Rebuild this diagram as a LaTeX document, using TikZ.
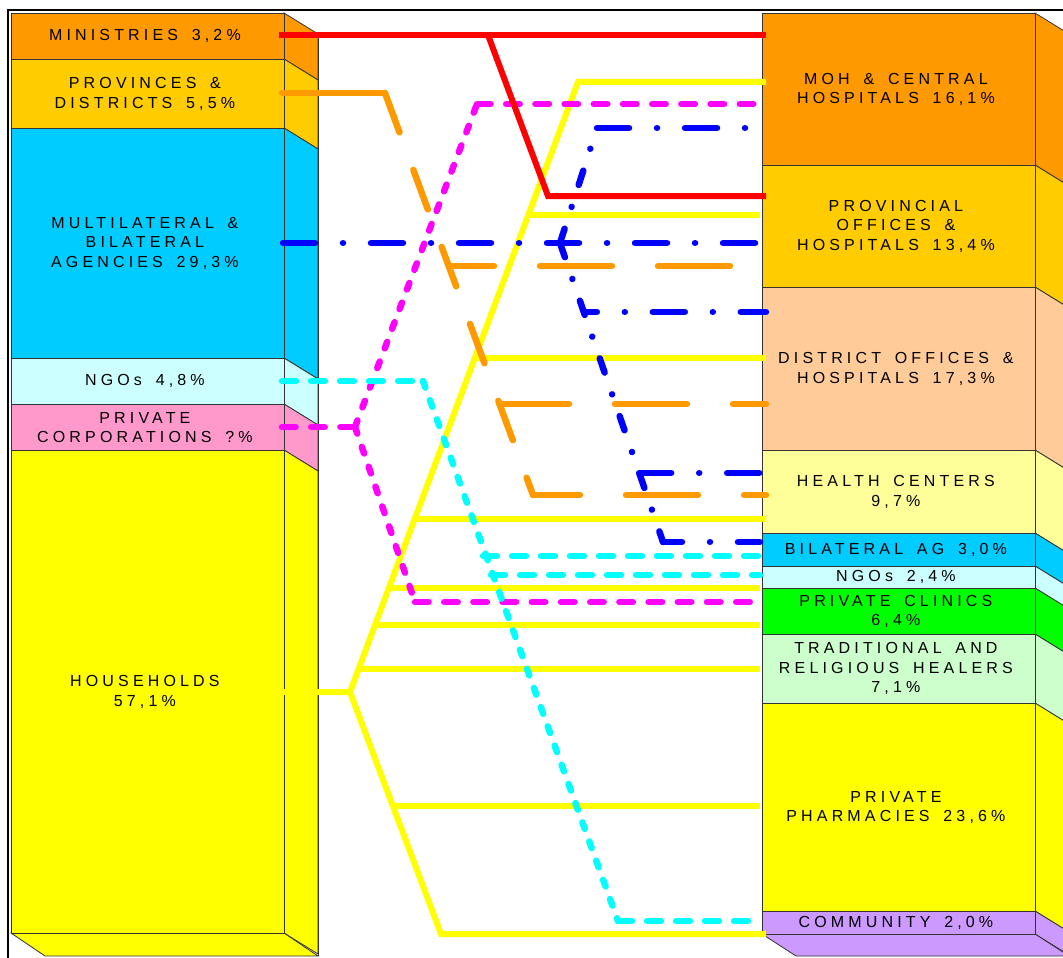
\documentclass[tikz,border=0pt]{standalone}
\usepackage{fontspec}
\newfontfamily\lblfont[LetterSpace=26,WordSpace=1.6]{Liberation Sans}
\definecolor{cMin}{HTML}{FF9900}
\definecolor{cProv}{HTML}{FFCC00}
\definecolor{cMulti}{HTML}{00CCFF}
\definecolor{cNgo}{HTML}{CCFFFF}
\definecolor{cPriv}{HTML}{FF99CC}
\definecolor{cHH}{HTML}{FFFF00}
\definecolor{cDist}{HTML}{FFCC99}
\definecolor{cHC}{HTML}{FFFF99}
\definecolor{cClin}{HTML}{00FF00}
\definecolor{cTrad}{HTML}{CCFFCC}
\definecolor{cComm}{HTML}{CC99FF}
\definecolor{lRed}{HTML}{FF0000}
\definecolor{lOra}{HTML}{FF9900}
\definecolor{lBlu}{HTML}{0000FF}
\definecolor{lCya}{HTML}{00FFFF}
\definecolor{lMag}{HTML}{FF00FF}
\definecolor{lYel}{HTML}{FFFF00}
\begin{document}
\begin{tikzpicture}[x=1pt,y=-1pt,
  edge/.style={draw=black!80, line width=0.8pt},
  face/.style={edge, rectangle, inner sep=0pt, anchor=north west, minimum width=273pt},
  lbl/.style={font=\lblfont\fontsize{16pt}{19.5pt}\selectfont, align=center, text=black, inner sep=0pt, xshift=-3pt},
  conn/.style={line width=6pt},
  dconn/.style={line width=6.5pt, line cap=round},
  yelline/.style={conn, draw=lYel},
  redline/.style={conn, draw=lRed},
  orabase/.style={dconn, draw=lOra},
  orah/.style={orabase, dash pattern=on 72pt off 46pt},
  orad/.style={orabase, dash pattern=on 42pt off 40pt},
  blubase/.style={dconn, draw=lBlu},
  bluh/.style={blubase, dash pattern=on 32pt off 28pt on 0.01pt off 28pt},
  blud/.style={blubase, dash pattern=on 15pt off 23pt on 0.01pt off 23pt},
  magh/.style={dconn, draw=lMag, dash pattern=on 13.5pt off 15.7pt},
  magd/.style={dconn, draw=lMag, dash pattern=on 7pt off 14pt},
  cyah/.style={dconn, draw=lCya, dash pattern=on 14pt off 15pt},
  cyad/.style={dconn, draw=lCya, dash pattern=on 7pt off 13.4pt}]
\useasboundingbox (0,0) rectangle (1063,958);
\clip (0,0) rectangle (1063,958);
% frame
\draw[line width=2pt] (7.5,960) -- (7.5,10) -- (1065,10);
% left column side and bottom faces
\foreach \a/\b/\c in {13/59/cMin,59/128/cProv,128/358/cMulti,358/404/cNgo,404/450/cPriv,450/933/cHH}
  {\filldraw[fill=\c, edge] (284,\a) -- (318,\a+21) -- (318,\b+21) -- (284,\b) -- cycle;}
\filldraw[fill=cHH, edge] (11,933) -- (284,933) -- (318,956) -- (45,956) -- cycle;
% right column side and bottom faces
\foreach \a/\b/\c in {13/165/cMin,165/287/cProv,287/450/cDist,450/533/cHC,533/566/cMulti,566/588/cNgo,588/634/cClin,634/703/cTrad,703/911/cHH,911/934/cComm}
  {\filldraw[fill=\c, edge] (1035,\a) -- (1069,\a+21) -- (1069,\b+21) -- (1035,\b) -- cycle;}
\filldraw[fill=cComm, edge] (762,934) -- (1035,934) -- (1069,956) -- (796,956) -- cycle;
% left front faces
\node[face, fill=cMin, minimum height=46pt] (ministries) at (11,13) {};
\node[face, fill=cProv, minimum height=69pt] (provinces) at (11,59) {};
\node[face, fill=cMulti, minimum height=230pt] (multi) at (11,128) {};
\node[face, fill=cNgo, minimum height=46pt] (ngosL) at (11,358) {};
\node[face, fill=cPriv, minimum height=46pt] (privcorp) at (11,404) {};
\node[face, fill=cHH, minimum height=483pt] (households) at (11,450) {};
% right front faces
\node[face, fill=cMin, minimum height=152pt] (moh) at (762,13) {};
\node[face, fill=cProv, minimum height=122pt] (provoff) at (762,165) {};
\node[face, fill=cDist, minimum height=163pt] (distoff) at (762,287) {};
\node[face, fill=cHC, minimum height=83pt] (hc) at (762,450) {};
\node[face, fill=cMulti, minimum height=33pt] (bilat) at (762,533) {};
\node[face, fill=cNgo, minimum height=22pt] (ngosR) at (762,566) {};
\node[face, fill=cClin, minimum height=46pt] (clinics) at (762,588) {};
\node[face, fill=cTrad, minimum height=69pt] (healers) at (762,634) {};
\node[face, fill=cHH, minimum height=208pt] (pharm) at (762,703) {};
\node[face, fill=cComm, minimum height=23pt] (comm) at (762,911) {};
% labels
\node[lbl] (tMin) at (ministries.center) {MINISTRIES 3,2\%};
\node[lbl] (tProv) at (provinces.center) {PROVINCES \&\\DISTRICTS 5,5\%};
\node[lbl] (tMulti) at (multi.center) {MULTILATERAL \&\\BILATERAL\\AGENCIES 29,3\%};
\node[lbl] (tNgoL) at (ngosL.center) {NGOs 4,8\%};
\node[lbl] (tPriv) at (privcorp.center) {PRIVATE\\CORPORATIONS ?\%};
\node[lbl] (tHH) at (households.center) {HOUSEHOLDS\\57,1\%};
\node[lbl] (tMoh) at (moh.center) {MOH \& CENTRAL\\HOSPITALS 16,1\%};
\node[lbl] (tProvOff) at (provoff.center) {PROVINCIAL\\OFFICES \&\\HOSPITALS 13,4\%};
\node[lbl] (tDist) at (distoff.center) {DISTRICT OFFICES \&\\HOSPITALS 17,3\%};
\node[lbl] (tHC) at (hc.center) {HEALTH CENTERS\\9,7\%};
\node[lbl] (tBil) at (bilat.center) {BILATERAL AG 3,0\%};
\node[lbl] (tNgoR) at (ngosR.center) {NGOs 2,4\%};
\node[lbl] (tClin) at (clinics.center) {PRIVATE CLINICS\\6,4\%};
\node[lbl] (tHeal) at (healers.center) {TRADITIONAL AND\\RELIGIOUS HEALERS\\7,1\%};
\node[lbl] (tPharm) at (pharm.center) {PRIVATE\\PHARMACIES 23,6\%};
\node[lbl] (tComm) at (comm.center) {COMMUNITY 2,0\%};
% back edge
\draw[edge] (318,34) -- (318,956);
% ---------- connectors ----------
% households (yellow)
\coordinate (hhL) at (284,692);
\coordinate (hhJ) at (350,692);
\coordinate (yTop) at (578,82);
\coordinate (yBot) at (441,934);
\draw[yelline] (hhL) -- (hhJ) -- (yTop) -- (766,82);
\draw[yelline] (hhJ) -- (yBot) -- (766,934);
\coordinate (y1) at (528.3,215);
\coordinate (y2) at (474.8,358);
\coordinate (y3) at (414.7,519);
\coordinate (y4) at (388.9,588);
\coordinate (y5) at (375.0,625);
\coordinate (y6) at (358.6,669);
\coordinate (y7) at (392.9,806);
\draw[yelline] (y1) -- (760,215);
\draw[yelline] (y2) -- (766,358);
\draw[yelline] (y3) -- (766,519);
\draw[yelline] (y4) -- (760,588);
\draw[yelline] (y5) -- (760,625);
\draw[yelline] (y6) -- (760,669);
\draw[yelline] (y7) -- (760,806);
% private corporations (magenta)
\coordinate (mL) at (282,427);
\coordinate (mJ) at (355,427);
\coordinate (mT) at (477,104);
\coordinate (mB) at (415,602);
\draw[magh] (mL) -- (mJ);
\draw[magd] (mJ) -- (mT);
\draw[magh] (mT) -- (760,104);
\draw[magd] (mJ) -- (mB);
\draw[magh] (mB) -- (758,602);
% NGOs (cyan)
\coordinate (cL) at (282,381);
\coordinate (cJ) at (423,381);
\coordinate (cB) at (618,921);
\coordinate (c1) at (483,556);
\coordinate (c2) at (491,575);
\draw[cyah] (cL) -- (cJ);
\draw[cyad] (cJ) -- (cB);
\draw[cyah] (cB) -- (752,921);
\draw[cyah] (c1) -- (760,556);
\draw[cyah] (c2) -- (760,575);
% ministries (red)
\coordinate (rL) at (279,35);
\coordinate (rJ) at (488,35);
\coordinate (rB) at (548,196);
\draw[redline] (rL) -- (766,35);
\draw[redline] (rJ) -- (rB) -- (766,196);
% provinces (orange)
\coordinate (oL) at (282,93);
\coordinate (oJ) at (385,93);
\coordinate (oB) at (533,495);
\coordinate (o1) at (448.7,266);
\coordinate (o2) at (499.5,404);
\draw[orabase] (oL) -- (oJ);
\draw[orad] (oJ) -- (oB);
\draw[orah, dash phase=25pt] (oB) -- (766,495);
\draw[orah, dash phase=26.7pt] (o1) -- (766,266);
\draw[orah, dash phase=2.5pt] (o2) -- (766,404);
% multilateral (blue)
\coordinate (bL) at (283,243);
\coordinate (bJ) at (560,243);
\coordinate (bT) at (597,128);
\coordinate (bB) at (663,542);
\coordinate (b1) at (583.8,312);
\coordinate (b2) at (639.2,473);
\draw[bluh] (bL) -- (766,243);
\draw[blud] (bJ) -- (bT);
\draw[bluh] (bT) -- (766,128);
\draw[blud] (bJ) -- (bB);
\draw[bluh, dash phase=13pt] (bB) -- (760,542);
\draw[bluh, dash phase=19pt] (b1) -- (766,312);
\draw[bluh] (b2) -- (766,473);
\end{tikzpicture}
\end{document}
